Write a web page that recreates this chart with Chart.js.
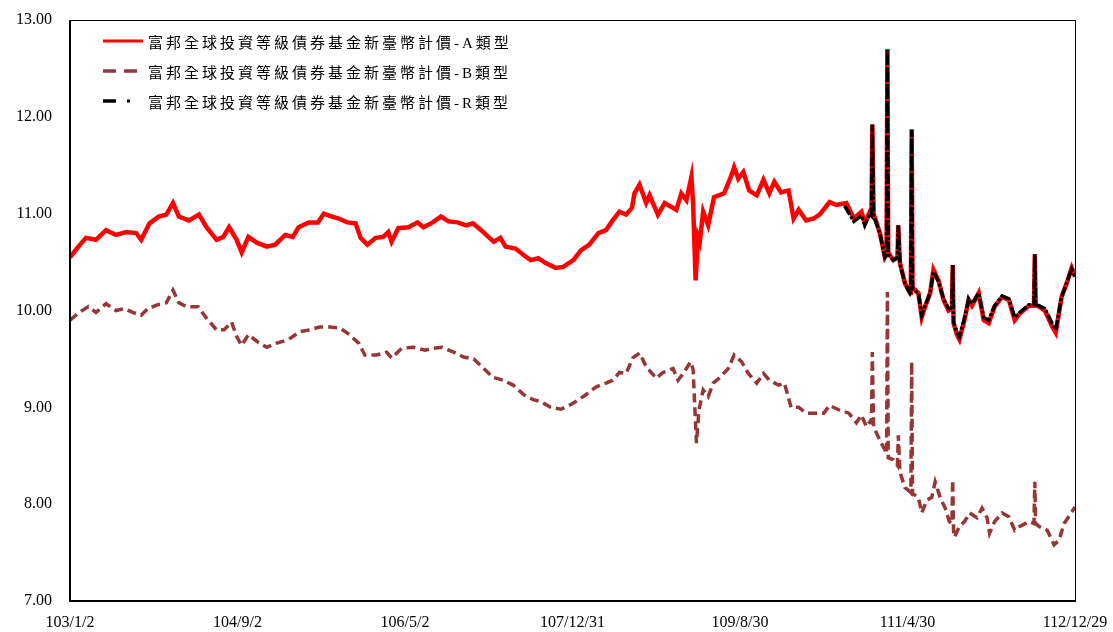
<!DOCTYPE html>
<html>
<head>
<meta charset="utf-8">
<script src="https://cdn.jsdelivr.net/npm/chart.js@4"></script>
<style>
  body { margin: 0; background: #fff; }
  #wrap { position: relative; width: 1113px; height: 632px; }
  #legend { position: absolute; left: 103px; top: 26px; font-family: "Liberation Serif", "Noto Sans CJK TC", serif; font-size: 15px; letter-spacing: 3px; color: #000; }
  .row { display: flex; align-items: center; height: 30px; }
  .row svg { width: 40px; height: 10px; margin-right: 5px; flex: none; }
</style>
</head>
<body>
<div id="wrap">
  <canvas id="chart" width="1113" height="632"></canvas>
  <div id="legend"></div>
</div>
<script>
// x = months since 103/1/2
const tickPos = [0, 20, 40, 60, 80, 100, 120];
const tickLabels = ['103/1/2', '104/9/2', '106/5/2', '107/12/31', '109/8/30', '111/4/30', '112/12/29'];

const seriesNames = [
    '富邦全球投資等級債券基金新臺幣計價-A類型',
    '富邦全球投資等級債券基金新臺幣計價-B類型',
    '富邦全球投資等級債券基金新臺幣計價-R類型'
];

const seriesA = [
    [0,10.55],[1.0,10.66],[1.9,10.75],[3.1,10.73],[4.3,10.83],[5.5,10.78],[6.7,10.81],[7.9,10.80],[8.5,10.73],[9.5,10.90],
    [10.6,10.97],[11.5,10.99],[12.3,11.11],[13.0,10.97],[14.2,10.93],[15.4,10.99],[16.3,10.86],[17.5,10.73],[18.3,10.76],[19.0,10.86],
    [19.9,10.73],[20.5,10.60],[21.3,10.76],[22.3,10.70],[23.5,10.66],[24.5,10.68],[25.7,10.78],[26.6,10.76],[27.3,10.86],[28.5,10.91],
    [29.6,10.91],[30.3,11.00],[31.3,10.97],[32.1,10.95],[33.1,10.91],[34.1,10.90],[34.7,10.75],[35.5,10.68],[36.5,10.75],[37.4,10.76],
    [38.0,10.81],[38.4,10.71],[39.2,10.85],[40.4,10.86],[41.5,10.91],[42.2,10.86],[43.3,10.91],[44.3,10.97],[45.2,10.92],[46.3,10.91],
    [47.3,10.88],[48.1,10.90],[49.1,10.83],[49.7,10.78],[50.6,10.71],[51.4,10.75],[52.0,10.66],[53.2,10.64],[54.2,10.57],[55.0,10.52],
    [55.9,10.54],[56.8,10.49],[58.0,10.44],[58.9,10.45],[60.1,10.52],[61.0,10.62],[62.0,10.68],[63.1,10.80],[64.0,10.83],[64.8,10.93],
    [65.6,11.02],[66.4,10.99],[67.1,11.06],[67.4,11.21],[68.0,11.30],[68.8,11.11],[69.2,11.19],[70.2,10.99],[71.0,11.11],[72.4,11.04],
    [73.0,11.21],[73.6,11.14],[74.2,11.38],[74.4,11.11],[74.7,10.31],[75.0,10.76],[75.2,10.71],[75.6,11.02],[76.2,10.88],[76.9,11.17],
    [78.1,11.21],[79.0,11.40],[79.3,11.48],[79.8,11.36],[80.4,11.43],[81.1,11.24],[82.0,11.19],[82.8,11.35],[83.5,11.21],[84.1,11.33],
    [84.9,11.22],[85.8,11.24],[86.4,10.95],[87.0,11.04],[87.9,10.93],[88.8,10.95],[89.5,10.99],[90.7,11.12],[91.5,11.09],[92.7,11.11],
    [93.6,10.95],[94.5,11.02],[94.9,10.90],[95.5,11.02],[95.7,11.00],[95.8,11.92],[95.95,11.00],[96.7,10.80],[97.3,10.55],[97.5,10.58],
    [97.6,12.70],[97.7,10.60],[98.3,10.52],[98.8,10.55],[98.9,10.88],[99.1,10.49],[99.7,10.28],[100.3,10.18],[100.4,10.20],[100.5,11.87],
    [100.6,10.24],[101.3,10.18],[101.7,9.93],[102.1,10.04],[102.7,10.18],[103.1,10.42],[103.7,10.31],[104.3,10.11],[104.9,10.00],[105.3,10.02],
    [105.4,10.47],[105.5,9.87],[105.9,9.75],[106.2,9.70],[106.8,9.90],[107.3,10.11],[107.7,10.05],[108.5,10.18],[109.1,9.90],[109.7,9.87],
    [110.4,10.04],[111.3,10.14],[112.1,10.11],[112.8,9.90],[113.4,9.97],[114.5,10.05],[115.1,10.05],[115.2,10.58],[115.3,10.05],[115.7,10.04],
    [116.4,10.00],[117.3,9.83],[117.7,9.77],[118.4,10.14],[119.0,10.28],[119.6,10.44],[120,10.35]
];

const seriesB = [
    [0,9.90],[1.1,9.98],[2.2,10.04],[3.1,9.98],[4.3,10.07],[5.5,10.00],[6.5,10.02],[7.5,9.98],[8.5,9.95],[9.3,10.02],
    [10.5,10.06],[11.5,10.08],[12.3,10.21],[13.0,10.08],[13.9,10.04],[15.3,10.04],[16.3,9.92],[17.5,9.80],[18.4,9.80],[19.3,9.88],
    [19.9,9.73],[20.5,9.64],[21.3,9.75],[22.5,9.67],[23.5,9.62],[24.6,9.66],[26.1,9.70],[27.4,9.78],[28.6,9.80],[29.8,9.83],
    [31.0,9.83],[32.2,9.82],[33.4,9.75],[34.5,9.66],[35.2,9.54],[36.6,9.54],[37.8,9.57],[38.4,9.51],[39.6,9.61],[41.0,9.62],
    [42.4,9.59],[43.4,9.61],[44.4,9.62],[45.8,9.57],[47.0,9.52],[48.2,9.50],[49.3,9.41],[50.5,9.31],[51.7,9.28],[52.9,9.23],
    [54.2,9.13],[55.3,9.08],[56.2,9.06],[57.4,9.00],[58.6,8.98],[59.6,9.02],[60.4,9.06],[61.6,9.13],[62.8,9.21],[64.0,9.25],
    [64.8,9.28],[65.6,9.36],[66.4,9.35],[67.2,9.51],[68.0,9.56],[68.8,9.42],[70.0,9.30],[70.8,9.36],[72.0,9.40],[72.6,9.28],
    [73.3,9.36],[74.1,9.47],[74.4,9.39],[74.8,8.63],[75.1,8.97],[75.6,9.18],[76.2,9.11],[76.8,9.25],[77.5,9.30],[78.6,9.40],
    [79.3,9.54],[80.2,9.47],[81.0,9.35],[82.0,9.25],[82.8,9.35],[83.5,9.28],[84.6,9.23],[85.3,9.25],[86.1,9.00],[87.0,9.00],
    [87.9,8.94],[88.9,8.94],[90.0,8.94],[90.7,9.02],[91.9,8.97],[93.0,8.94],[93.9,8.84],[94.5,8.92],[95.1,8.80],[95.5,8.85],
    [95.7,8.84],[95.8,9.57],[95.95,8.80],[96.7,8.66],[97.3,8.56],[97.5,8.52],[97.6,10.19],[97.7,8.48],[98.3,8.46],[98.8,8.40],
    [98.9,8.71],[99.1,8.33],[99.7,8.17],[100.3,8.13],[100.4,8.12],[100.5,9.47],[100.6,8.11],[101.3,8.07],[101.7,7.91],[102.3,8.04],
    [102.9,8.07],[103.3,8.23],[103.9,8.07],[104.5,7.96],[105.0,7.82],[105.3,7.80],[105.4,8.25],[105.5,7.72],[105.6,7.66],[106.2,7.77],
    [106.8,7.82],[107.4,7.91],[108.3,7.86],[108.9,7.96],[109.5,7.86],[109.8,7.70],[110.4,7.82],[111.3,7.91],[112.1,7.87],[112.8,7.73],
    [113.4,7.77],[114.5,7.82],[115.1,7.80],[115.2,8.23],[115.3,7.80],[115.7,7.77],[116.7,7.73],[117.5,7.58],[118.1,7.63],[118.7,7.80],
    [119.4,7.89],[120,7.97]
];

const seriesR = [
    [92.5,11.08],[92.7,11.05],[93.6,10.92],[94.5,10.98],[94.9,10.88],[95.5,11.00],[95.7,10.98],[95.8,11.92],[95.95,10.98],[96.7,10.80],
    [97.3,10.55],[97.5,10.57],[97.6,12.70],[97.7,10.58],[98.3,10.52],[98.8,10.54],[98.9,10.88],[99.1,10.48],[99.7,10.28],[100.3,10.18],
    [100.4,10.20],[100.5,11.87],[100.6,10.22],[101.3,10.18],[101.7,9.95],[102.1,10.05],[102.7,10.18],[103.1,10.40],[103.7,10.30],[104.3,10.12],
    [104.9,10.02],[105.3,10.03],[105.4,10.47],[105.5,9.88],[105.9,9.78],[106.2,9.73],[106.8,9.92],[107.3,10.12],[107.7,10.07],[108.5,10.18],
    [109.1,9.93],[109.7,9.90],[110.4,10.05],[111.3,10.15],[112.1,10.12],[112.8,9.93],[113.4,9.98],[114.5,10.06],[115.1,10.06],[115.2,10.58],
    [115.3,10.06],[115.7,10.05],[116.4,10.02],[117.3,9.86],[117.7,9.80],[118.4,10.14],[119.0,10.28],[119.6,10.43],[120,10.35]
];

const toPoints = arr => arr.map(p => ({ x: p[0], y: p[1] }));

// frame around the plot area
const framePlugin = {
    id: 'frame',
    afterDraw(chart) {
        const { ctx, chartArea: a } = chart;
        ctx.save();
        ctx.strokeStyle = '#000';
        ctx.lineWidth = 1;
        ctx.strokeRect(a.left + 0.5, a.top + 0.5, a.right - a.left, a.bottom - a.top);
        ctx.lineWidth = 2;
        ctx.beginPath();
        ctx.moveTo(a.left, a.top);
        ctx.lineTo(a.left, a.bottom);
        ctx.lineTo(a.right, a.bottom);
        ctx.stroke();
        ctx.restore();
    }
};

const tickFont = { family: '"Liberation Serif", "Times New Roman", serif', size: 16 };

new Chart(document.getElementById('chart'), {
    type: 'line',
    data: {
        datasets: [{
            label: seriesNames[0],
            data: toPoints(seriesA),
            borderColor: '#ff0000',
            borderWidth: 4.5,
            order: 2
        }, {
            label: seriesNames[1],
            data: toPoints(seriesB),
            borderColor: '#953735',
            borderWidth: 3.5,
            borderDash: [9, 5],
            order: 3
        }, {
            label: seriesNames[2],
            data: toPoints(seriesR),
            borderColor: '#000000',
            borderWidth: 3.5,
            borderDash: [10, 2, 3, 2],
            order: 1
        }]
    },
    options: {
        responsive: false,
        animation: false,
        elements: { point: { radius: 0 }, line: { tension: 0, borderCapStyle: 'butt' } },
        layout: { padding: { top: 20, right: 38, left: 0, bottom: 0 } },
        plugins: { legend: { display: false }, tooltip: { enabled: false } },
        scales: {
            x: {
                type: 'linear',
                min: 0,
                max: 120,
                grid: { display: false, drawTicks: false },
                border: { display: false },
                afterBuildTicks: scale => { scale.ticks = tickPos.map(v => ({ value: v })); },
                afterFit: scale => {
                    scale.height = 31;
                    scale.paddingLeft = 0;
                    scale.paddingRight = 0;
                },
                ticks: {
                    autoSkip: false,
                    maxRotation: 0,
                    padding: 12,
                    color: '#000',
                    font: tickFont,
                    callback: v => tickLabels[tickPos.indexOf(v)]
                }
            },
            y: {
                min: 7,
                max: 13,
                grid: { display: false, drawTicks: false },
                border: { display: false },
                afterFit: scale => {
                    scale.width = 70;
                    scale.paddingTop = 0;
                    scale.paddingBottom = 0;
                },
                ticks: {
                    stepSize: 1,
                    padding: 18,
                    color: '#000',
                    font: tickFont,
                    callback: v => v.toFixed(2)
                }
            }
        }
    },
    plugins: [framePlugin]
});

// legend inside the plot, top left
const legendSamples = [
    '<svg viewBox="0 0 40 10"><line x1="0" y1="5" x2="40" y2="5" stroke="#ff0000" stroke-width="3"/></svg>',
    '<svg viewBox="0 0 40 10"><line x1="0" y1="5" x2="40" y2="5" stroke="#953735" stroke-width="3.5" stroke-dasharray="13 8"/></svg>',
    '<svg viewBox="0 0 40 10"><line x1="0" y1="5" x2="13" y2="5" stroke="#000" stroke-width="3.5"/><rect x="24" y="3.5" width="3" height="3" fill="#000"/></svg>'
];
document.getElementById('legend').innerHTML = seriesNames
    .map((name, i) => `<div class="row">${legendSamples[i]}<span>${name}</span></div>`)
    .join('');
</script>
</body>
</html>
